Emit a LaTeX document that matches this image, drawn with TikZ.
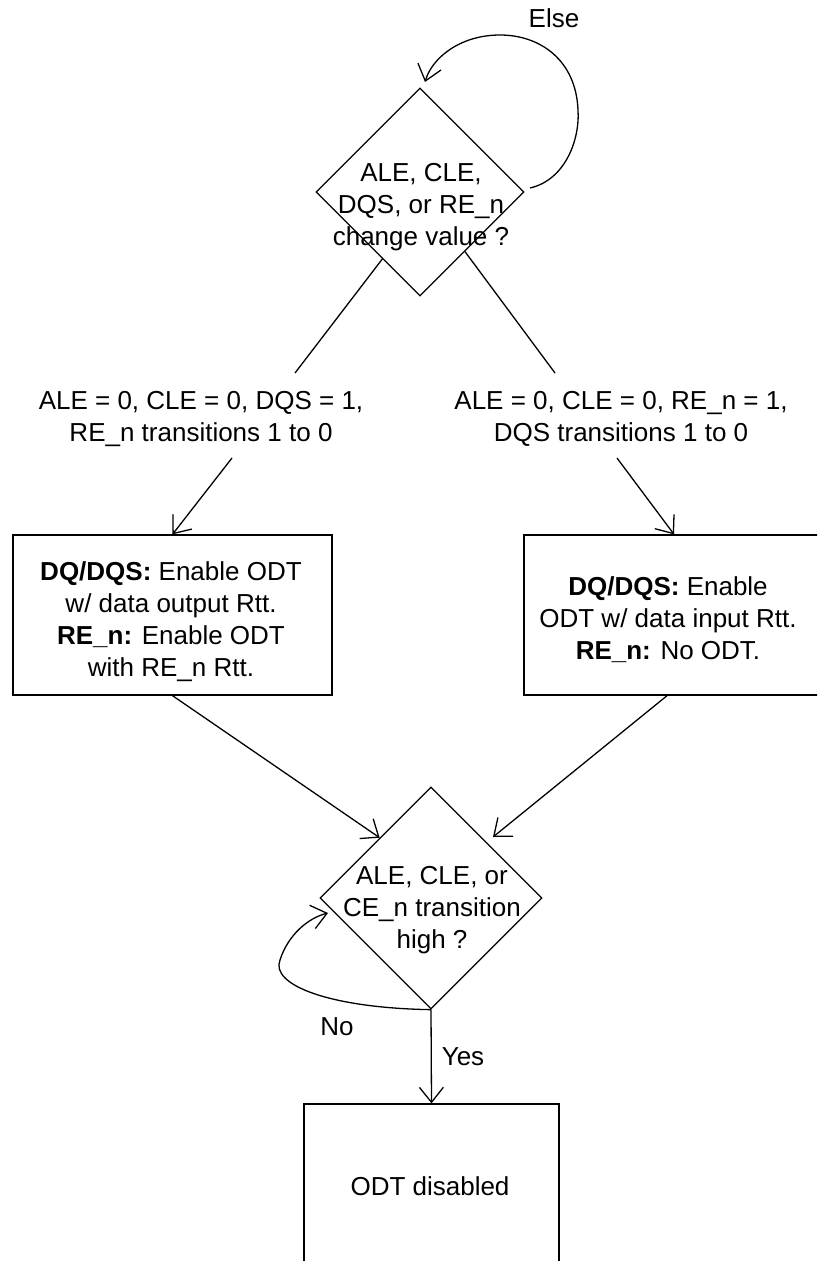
\documentclass[tikz,border=0pt]{standalone}
\usepackage{fontspec}
\setmainfont{Liberation Sans}
\usetikzlibrary{arrows.meta,shapes.geometric,calc}
\begin{document}
\begin{tikzpicture}[x=1pt,y=-1pt,
  every node/.style={font=\fontsize{26}{32}\selectfont},
  conn/.style={line width=1.3pt},
  arr/.style={conn,-{Straight Barb[length=15pt,width=24pt,line width=1.3pt]}},
  dia/.style={draw,line width=1.3pt,diamond,inner sep=0pt,minimum width=#1,minimum height=#1},
  box/.style={draw,line width=1.3pt,rectangle,inner sep=0pt},
  txt/.style={align=center,inner sep=0pt}]
\useasboundingbox (0,0) rectangle (817,1261);
\clip (0,0) rectangle (817,1261);
% decision 1
\node[dia=208] (d1) at (420,192) {};
\node[txt] (d1t) at (421,207) {ALE, CLE,\\DQS, or RE\_n\\change value ?};
\node[txt] (else) at (554,18) {Else};
% condition labels
\node[txt] (l1) at (201,419) {ALE = 0, CLE = 0, DQS = 1,\\RE\_n transitions 1 to 0};
\node[txt] (l2) at (621,419) {ALE = 0, CLE = 0, RE\_n = 1,\\DQS transitions 1 to 0};
% action boxes
\node[box,minimum width=319,minimum height=160] (b1) at (172.5,615) {};
\node[txt] (b1t) at (171,622) {\textbf{DQ/DQS:} Enable ODT\\w/ data output Rtt.\\\textbf{RE\_n:} Enable ODT\\with RE\_n Rtt.};
\node[box,minimum width=300,minimum height=160] (b2) at (674,615) {};
\node[txt] (b2t) at (668,620) {\textbf{DQ/DQS:} Enable\\ODT w/ data input Rtt.\\\textbf{RE\_n:} No ODT.};
% decision 2
\node[dia=222] (d2) at (431,898) {};
\node[txt] (d2t) at (432,910) {ALE, CLE, or\\CE\_n transition\\high ?};
\node[txt] (no) at (337,1027) {No};
\node[txt] (yes) at (463,1057) {Yes};
% final box
\node[box,minimum width=255,minimum height=200] (b3) at (431.5,1204) {};
\node[txt] (b3t) at (430,1186) {ODT disabled};
% coordinates
\coordinate (elseS) at (530,188);
\coordinate (elseE) at (425,82);
\coordinate (d1l) at ($(d1.south)!0.36!(d1.west)$);
\coordinate (d1r) at ($(d1.south)!0.43!(d1.east)$);
\coordinate (l1t) at (295,373);
\coordinate (l2t) at (555,373);
\coordinate (l1b) at (232,458);
\coordinate (l2b) at (617,458);
\coordinate (b2s) at ($(b2.south west)!0.477!(b2.south east)$);
\coordinate (d2a) at ($(d2.north)!0.46!(d2.west)$);
\coordinate (d2b) at (493,837);
\coordinate (noE) at (328,913);
% connectors
\draw[arr] (elseS) .. controls (565,180) and (580,140) .. (578,110)
  .. controls (576,60) and (540,35) .. (500,35)
  .. controls (460,35) and (432,58) .. (elseE);
\draw[conn] (d1l) -- (l1t);
\draw[conn] (d1r) -- (l2t);
\draw[arr] (l1b) -- (b1.north);
\draw[arr] (l2b) -- (b2.north);
\draw[arr] (b1.south) -- (d2a);
\draw[arr] (b2s) -- (d2b);
\draw[arr] (d2.south) .. controls (330,1008) and (270,985) .. (280,960)
  .. controls (288,935) and (308,918) .. (noE);
\draw[arr] (d2.south) -- (b3.north);
\end{tikzpicture}
\end{document}
